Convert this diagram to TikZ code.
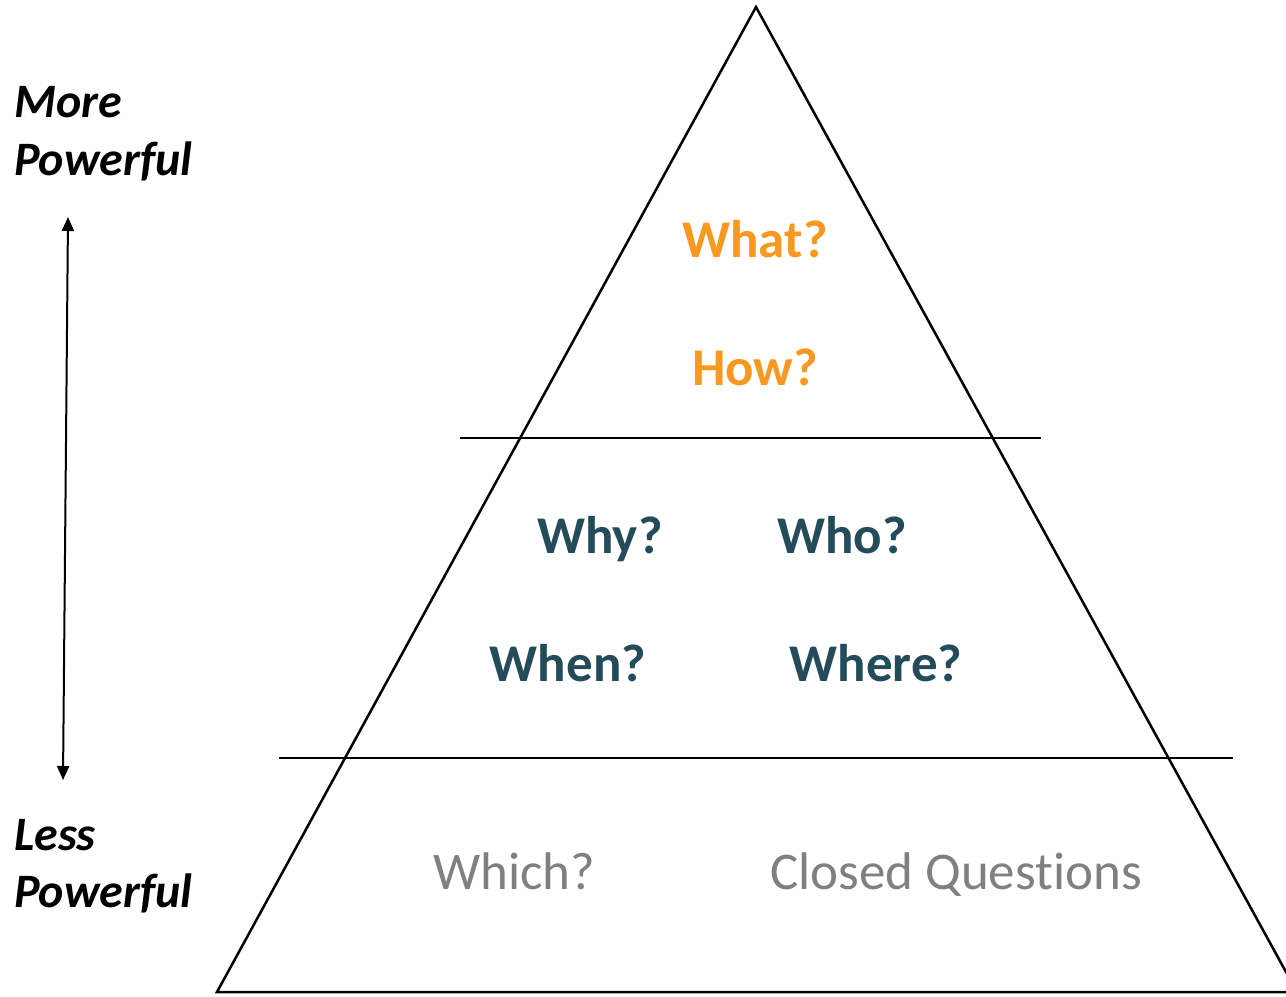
\documentclass[tikz,border=0pt]{standalone}
\usepackage{fontspec}
\setmainfont{Carlito}[Ligatures=NoCommon]
\usetikzlibrary{arrows.meta}
\definecolor{qorange}{RGB}{247,152,32}
\definecolor{qteal}{RGB}{36,75,90}
\definecolor{qgray}{RGB}{128,128,128}
\begin{document}
\begin{tikzpicture}[x=1bp,y=-1bp,
  side/.style={font=\fontsize{48bp}{58bp}\selectfont\bfseries\itshape, text=black, inner sep=0pt, anchor=base west},
  top/.style={font=\fontsize{53bp}{60bp}\selectfont\bfseries, text=qorange, inner sep=0pt, anchor=base},
  mid/.style={font=\fontsize{53bp}{60bp}\selectfont\bfseries, text=qteal, inner sep=0pt, anchor=base},
  low/.style={font=\fontsize{53bp}{60bp}\selectfont, text=qgray, inner sep=0pt, anchor=base},
  tier/.style={line width=1.3bp, draw=black},
  outline/.style={line width=2.5bp, draw=black, line join=miter},
  scale arrow/.style={line width=2bp, {Triangle[length=14bp,width=12bp]}-{Triangle[length=14bp,width=12bp]}}]
\useasboundingbox (0,0) rectangle (1286,997);
\fill[white] (0,0) rectangle (1286,997);

% pyramid outline
\coordinate (apex) at (756,7);
\coordinate (bl) at (217,992);
\coordinate (br) at (1297,992);
\draw[outline] (apex) -- (bl) -- (br) -- cycle;

% tier separators
\coordinate (s1a) at (460,438);
\coordinate (s1b) at (1041,438);
\coordinate (s2a) at (279,758);
\coordinate (s2b) at (1233,758);
\draw[tier] (s1a) -- (s1b);
\draw[tier] (s2a) -- (s2b);

% power scale
\coordinate (up) at (68,217);
\coordinate (down) at (63,780);
\draw[scale arrow] (up) -- (down);

\node[side] (more) at (14,117) {More};
\node[side] (morep) at (14,175) {Powerful};
\node[side] (less) at (14,850) {Less};
\node[side] (lessp) at (14,907) {Powerful};

% top tier
\node[top] (what) at (755,257) {What?};
\node[top] (how) at (755,385) {How?};

% middle tier
\node[mid] (why) at (600,553) {Why?};
\node[mid] (who) at (842,553) {Who?};
\node[mid] (when) at (568,681) {When?};
\node[mid] (where) at (876,681) {Where?};

% bottom tier
\node[low] (which) at (514,889) {Which?};
\node[low] (closed) at (956,889) {Closed Questions};
\end{tikzpicture}
\end{document}
